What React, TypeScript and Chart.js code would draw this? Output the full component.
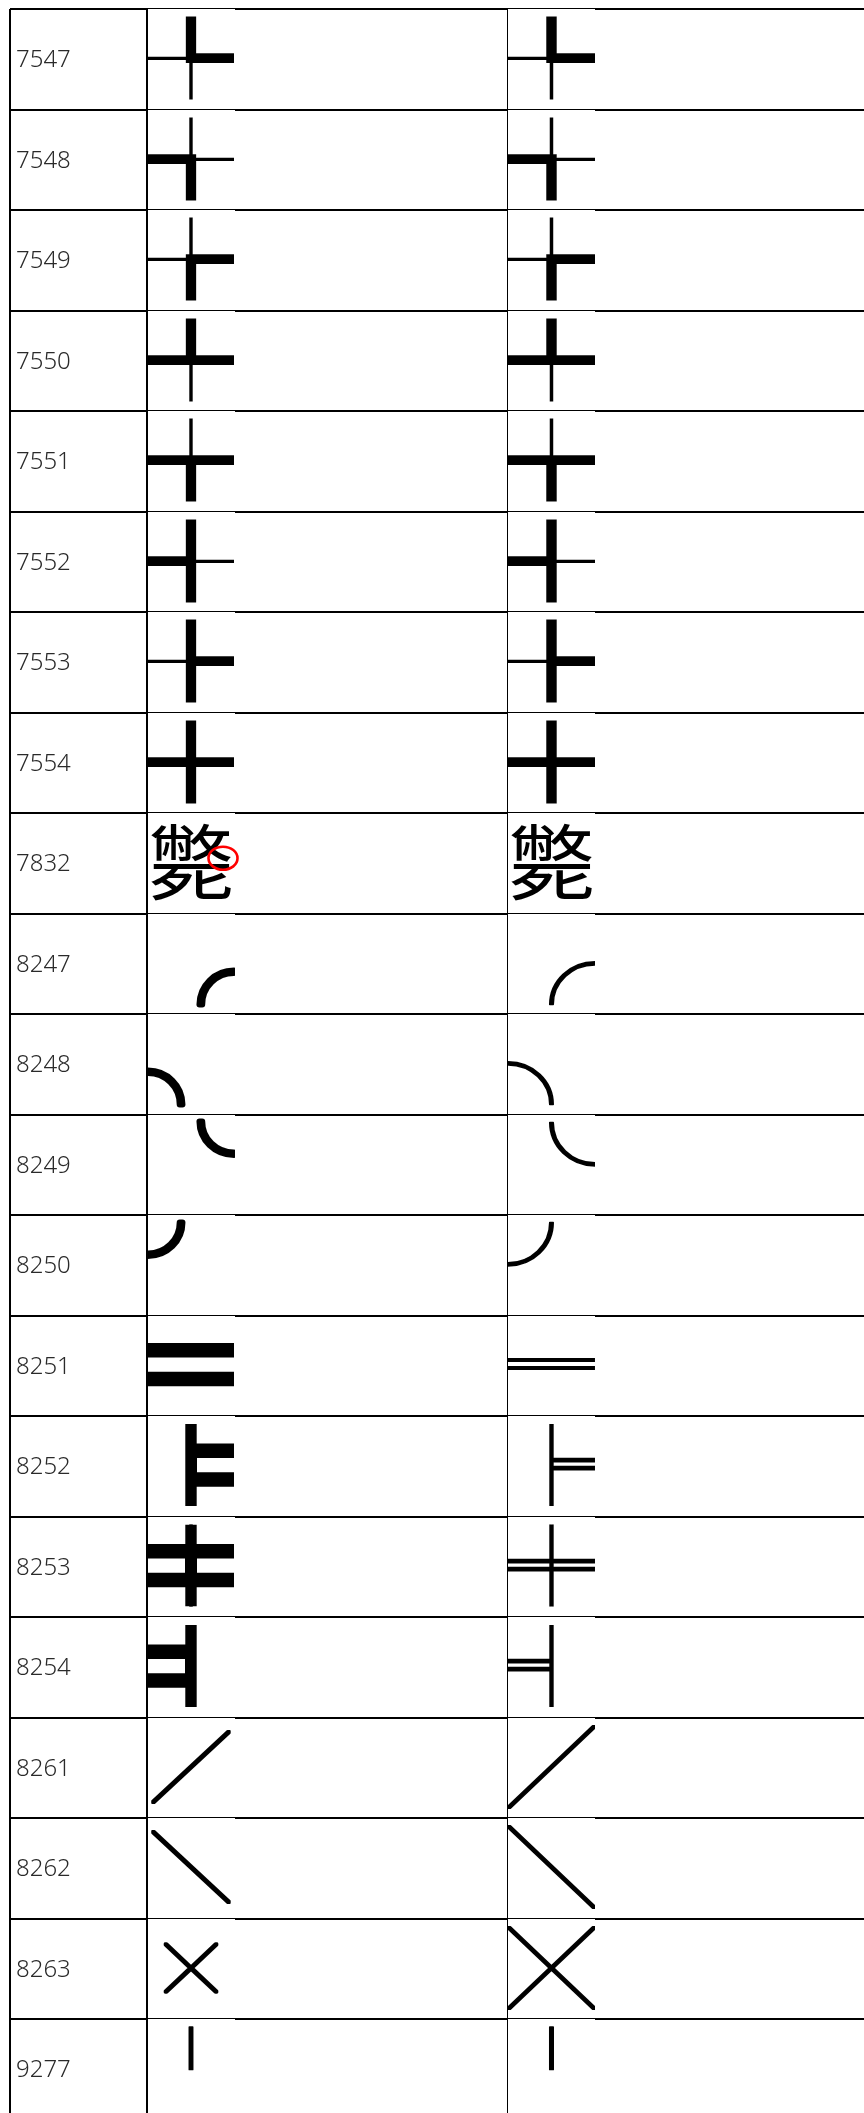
import React, { useEffect, useRef } from "react";
import { Chart, registerables } from "chart.js";

Chart.register(...registerables);

// ---- data ----
const rowIds: string[] = [
  "7547", "7548", "7549", "7550", "7551", "7552", "7553", "7554", "7832",
  "8247", "8248", "8249", "8250", "8251", "8252", "8253", "8254",
  "8261", "8262", "8263", "9277",
];
const renderedGlyphs: string[] = [
  "╄", "╅", "╆", "╇", "╈", "╉", "╊", "╋", "斃",
  "╭", "╮", "╰", "╯", "═", "╞", "╪", "╡",
  "╱", "╲", "╳", "╵",
];
const expectedGlyphs: string[] = [
  "╄", "╅", "╆", "╇", "╈", "╉", "╊", "╋", "斃",
  "╭", "╮", "╰", "╯", "═", "╞", "╪", "╡",
  "╱", "╲", "╳", "╵",
];
// column edges in table units (px from table left)
const columnEdges: number[] = [0, 137, 498];
const idTextX = 6;
const glyphCellStarts: number[] = [138, 498];
const glyphCellWidth = 87;
// highlighted spot (row 7832, rendered column)
const markX = 213;
const markY = 8.45;

// ---- glyph styling (presentation only) ----
type GStyle = { sx?: number; sy?: number; ax?: number; ay?: number; stroke?: number; thickV?: number };
const renderedStyle: Record<string, GStyle> = {
  "╭": { sx: 0.77, sy: 0.77, ax: 43, ay: 41, stroke: 6 },
  "╮": { sx: 0.77, sy: 0.77, ax: -43, ay: 41, stroke: 6 },
  "╰": { sx: 0.77, sy: 0.77, ax: 43, ay: -41, stroke: 6 },
  "╯": { sx: 0.77, sy: 0.77, ax: -43, ay: -41, stroke: 6 },
  "═": { sy: 4.4 },
  "╞": { sy: 4.4, thickV: 8 },
  "╪": { sy: 4.4, thickV: 8 },
  "╡": { sy: 4.4, thickV: 8 },
  "╱": { sx: 0.9, sy: 0.88, stroke: 2 },
  "╲": { sx: 0.9, sy: 0.88, stroke: 2 },
  "╳": { sx: 0.6, sy: 0.58, stroke: 3 },
  "╵": { stroke: 1.5 },
};
const expectedStyle: Record<string, GStyle> = {
  "╭": { stroke: 1.5 },
  "╮": { stroke: 1.5 },
  "╰": { stroke: 1.5 },
  "╯": { stroke: 1.5 },
  "═": { sy: 1.2 },
  "╞": { sy: 1.2, stroke: 0.8 },
  "╪": { sy: 1.2, stroke: 0.8 },
  "╡": { sy: 1.2, stroke: 0.8 },
  "╱": { stroke: 1.5 },
  "╲": { stroke: 1.5 },
  "╳": { stroke: 1.5 },
  "╵": { stroke: 1.5 },
};

const W = 864;
const H = 2113;
const ROW_PX = 100.5;
const TOP = 9;
const LEFT = 10;
const GLYPH_H = 82;
const ROW_CENTER = 0.488;

const tablePlugin = {
  id: "tableCells",
  afterDatasetsDraw(chart: any) {
    const ctx = chart.ctx as CanvasRenderingContext2D;
    const xs = chart.scales.x;
    const ys = chart.scales.y;
    ctx.save();
    chart.data.datasets.forEach((ds: any, di: number) => {
      const meta = chart.getDatasetMeta(di);
      if (ds.kind === "id") {
        ctx.fillStyle = "#2a2a2a";
        ctx.font = '300 24px "Noto Sans", "Open Sans", sans-serif';
        ctx.textAlign = "left";
        ctx.textBaseline = "middle";
        meta.data.forEach((el: any, i: number) => {
          ctx.fillText(ds.texts[i], el.x, el.y + 1);
        });
      } else if (ds.kind === "glyph") {
        meta.data.forEach((el: any, i: number) => {
          const rTop = Math.round(ys.getPixelForValue(i));
          const rBot = Math.round(ys.getPixelForValue(i + 1));
          const x0 = Math.round(xs.getPixelForValue(ds.cellStart));
          const x1 = Math.round(xs.getPixelForValue(ds.cellStart + glyphCellWidth));
          const g = ds.texts[i];
          const st: GStyle = (ds.styles && ds.styles[g]) || {};
          const fs = ds.fontSize;
          const baseSy = GLYPH_H / fs;
          const sx = st.sx ?? 1;
          const sy = st.sy ?? 1;
          const ax = st.ax ?? 0;
          const ay = st.ay ?? 0;
          const cx = el.x;
          const cy = el.y;
          ctx.save();
          ctx.beginPath();
          ctx.rect(x0, rTop, x1 - x0, rBot - 1 - rTop);
          ctx.clip();
          ctx.fillStyle = "#fff";
          ctx.fillRect(x0, rTop, x1 - x0, rBot - 1 - rTop);
          if (sy > 1.01) {
            ctx.beginPath();
            ctx.rect(x0, cy - GLYPH_H / 2, x1 - x0, GLYPH_H);
            ctx.clip();
          }
          ctx.fillStyle = "#000";
          ctx.strokeStyle = "#000";
          ctx.font = `${fs}px ${ds.fontFamily}`;
          ctx.textAlign = "center";
          ctx.textBaseline = "middle";
          ctx.save();
          ctx.translate(cx + ax, cy + ay);
          ctx.scale(sx, sy);
          ctx.translate(-ax, -ay);
          ctx.scale(1, baseSy);
          ctx.fillText(g, 0, 0);
          if (st.stroke) {
            ctx.lineWidth = st.stroke / Math.sqrt(Math.abs(sx * sy * baseSy));
            ctx.lineJoin = "round";
            ctx.strokeText(g, 0, 0);
          }
          ctx.restore();
          if (st.thickV) {
            ctx.save();
            ctx.beginPath();
            ctx.rect(cx - 6, cy - GLYPH_H / 2, 12, GLYPH_H);
            ctx.clip();
            ctx.translate(cx, cy);
            ctx.scale(1, baseSy);
            ctx.fillText(g, 0, 0);
            ctx.lineWidth = st.thickV;
            ctx.lineJoin = "miter";
            ctx.strokeText(g, 0, 0);
            ctx.restore();
          }
          ctx.restore();
        });
      } else if (ds.kind === "mark") {
        meta.data.forEach((el: any) => {
          ctx.beginPath();
          ctx.ellipse(el.x, el.y, 14.5, 11.5, 0, 0, Math.PI * 2);
          ctx.strokeStyle = "#ff0000";
          ctx.lineWidth = 2.6;
          ctx.stroke();
        });
      }
    });
    ctx.restore();
  },
};

export default function App() {
  const ref = useRef<HTMLCanvasElement | null>(null);
  useEffect(() => {
    document.body.style.margin = "0";
    document.body.style.overflow = "hidden";
    const canvas = ref.current!;
    const chart = new Chart(canvas, {
      type: "scatter",
      data: {
        datasets: [
          {
            kind: "id",
            texts: rowIds,
            data: rowIds.map((_, i) => ({ x: idTextX, y: i + 0.5 })),
            pointRadius: 0,
          } as any,
          {
            kind: "glyph",
            texts: renderedGlyphs,
            styles: renderedStyle,
            cellStart: glyphCellStarts[0],
            fontSize: 86,
            fontFamily: '"Noto Sans CJK JP"',
            data: renderedGlyphs.map((_, i) => ({ x: glyphCellStarts[0] + 43, y: i + ROW_CENTER })),
            pointRadius: 0,
          } as any,
          {
            kind: "glyph",
            texts: expectedGlyphs,
            styles: expectedStyle,
            cellStart: glyphCellStarts[1],
            fontSize: 87,
            fontFamily: '"Noto Sans CJK KR"',
            data: expectedGlyphs.map((_, i) => ({ x: glyphCellStarts[1] + 43.5, y: i + ROW_CENTER })),
            pointRadius: 0,
          } as any,
          {
            kind: "mark",
            data: [{ x: markX, y: markY }],
            pointRadius: 0,
          } as any,
        ],
      },
      options: {
        responsive: false,
        animation: false,
        devicePixelRatio: 1,
        layout: { padding: { left: LEFT, top: TOP, right: 0, bottom: 0 } },
        plugins: { legend: { display: false }, tooltip: { enabled: false } },
        events: [],
        scales: {
          x: {
            type: "linear",
            min: 0,
            max: W - LEFT,
            afterBuildTicks: (s: any) => {
              s.ticks = columnEdges.map((v) => ({ value: v }));
            },
            afterFit: (s: any) => {
              s.height = 0;
            },
            ticks: { display: false },
            border: { display: false },
            grid: { color: "#000", lineWidth: 2, drawTicks: false },
          },
          y: {
            type: "linear",
            reverse: true,
            min: 0,
            max: (H - TOP) / ROW_PX,
            afterBuildTicks: (s: any) => {
              s.ticks = rowIds.map((_, i) => ({ value: i }));
            },
            afterFit: (s: any) => {
              s.width = 0;
            },
            ticks: { display: false },
            border: { display: false },
            grid: { color: "#000", lineWidth: 2, drawTicks: false },
          },
        },
      },
      plugins: [tablePlugin],
    } as any);
    return () => chart.destroy();
  }, []);
  return (
    <div style={{ width: W, height: H, background: "#fff" }}>
      <canvas ref={ref} width={W} height={H} style={{ display: "block", width: W, height: H }} />
    </div>
  );
}
